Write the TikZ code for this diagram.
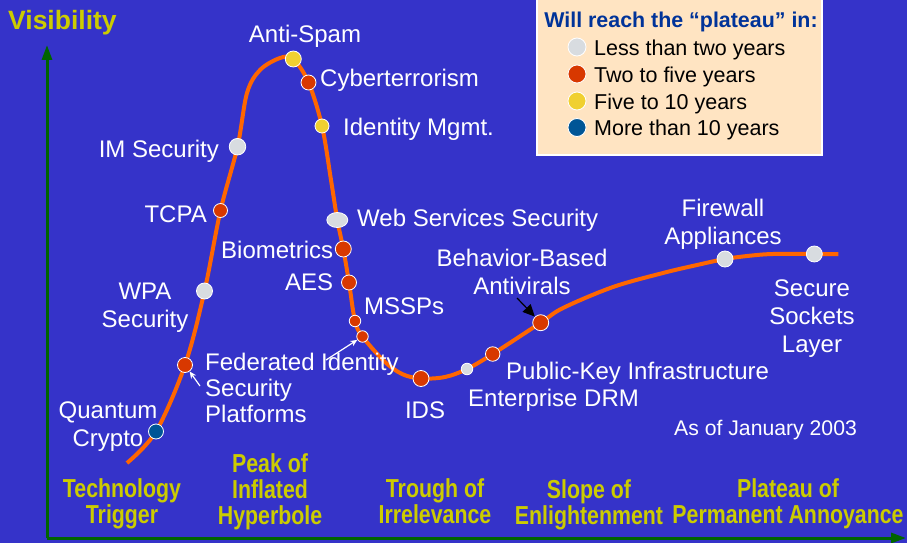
\documentclass[tikz,border=0pt]{standalone}
\usepackage{fontspec}
\setmainfont{Liberation Sans}
\newfontfamily\narrowfont[FakeStretch=0.82]{Liberation Sans}
\usetikzlibrary{arrows.meta,shapes.geometric}
\definecolor{bg}{RGB}{53,51,201}
\definecolor{axisgreen}{RGB}{0,100,0}
\definecolor{curveorange}{RGB}{255,102,0}
\definecolor{dgray}{RGB}{216,220,224}
\definecolor{dred}{RGB}{216,56,0}
\definecolor{dyellow}{RGB}{240,208,48}
\definecolor{dblue}{RGB}{0,85,150}
\definecolor{ylab}{RGB}{204,204,0}
\definecolor{legbg}{RGB}{255,228,194}
\definecolor{legtitle}{RGB}{0,51,153}
\tikzset{
  axis/.style={line width=3pt, draw=axisgreen, -{Triangle[length=15pt,width=10pt]}},
  curve/.style={line width=4pt, draw=curveorange},
  dot/.style={circle, fill=#1, draw=white, line width=0.8pt, minimum size=16pt, inner sep=0pt},
  lbl/.style={text=white, inner sep=0pt, font=\fontsize{24}{28}\selectfont},
  phase/.style={text=ylab, inner sep=0pt, align=center, anchor=north, font=\narrowfont\bfseries\fontsize{26}{26}\selectfont},
  legtext/.style={text=black, inner sep=0pt, anchor=north west, font=\fontsize{21.5}{26}\selectfont},
  whitearrow/.style={draw=white, line width=1.2pt, -{Stealth[length=7pt,width=6pt]}},
  blackarrow/.style={draw=black, line width=1.2pt, -{Triangle[length=12pt,width=11pt]}}
}
\begin{document}
\begin{tikzpicture}[x=1pt,y=-1pt]
\useasboundingbox (0,0) rectangle (907,543);
\fill[bg] (0,0) rectangle (907,543);

% axes
\coordinate (origin) at (47,538);
\coordinate (ytip) at (47,45);
\coordinate (xtip) at (906,538);
\draw[axis] (origin) -- (ytip);
\draw[axis] (origin) -- (xtip);
\node[anchor=north west, inner sep=0pt, text=ylab, font=\bfseries\fontsize{26.5}{30}\selectfont] (vis) at (8,10) {Visibility};

% legend
\fill[legbg, draw=white, line width=1.5pt] (537,-5) rectangle (822,155);
\node[anchor=north, inner sep=0pt, text=legtitle, font=\bfseries\fontsize{21.4}{25}\selectfont] (legt) at (681,11.7) {Will reach the “plateau” in:};
\node[dot=dgray, minimum size=18pt] (lg1) at (577,47) {};
\node[dot=dred, minimum size=18pt] (lg2) at (577,74) {};
\node[dot=dyellow, minimum size=18pt] (lg3) at (577,101) {};
\node[dot=dblue, minimum size=18pt] (lg4) at (577,127.5) {};
\node[legtext] (lt1) at (594,39.3) {Less than two years};
\node[legtext] (lt2) at (594,66.7) {Two to five years};
\node[legtext] (lt3) at (594,94) {Five to 10 years};
\node[legtext] (lt4) at (594,120) {More than 10 years};

% hype curve
\draw[curve] plot[smooth, tension=0.55] coordinates {
 (127,463) (156,431.5) (185,365) (204.5,291) (220.5,210.5) (237.5,146.7)
 (247,93) (260,70) (280,58) (293.3,59) (308.5,82.5) (322,126)
 (331,180) (337.3,220) (343.3,249) (349,282.5) (355,321) (362.5,336.5)
 (384,361) (402,374) (421,378.5) (445,377) (467,369) (492.7,354)
 (540.7,322.7) (563,308) (613,287) (663,273) (697,265) (725,259) (750,255.7)
 (773,254) (814.3,254) (838.3,254)};

% dots
\node[dot=dblue, minimum size=15pt] (quantum) at (156,431.5) {};
\node[dot=dred, minimum size=15pt] (fed) at (185,365) {};
\node[dot=dgray] (wpa) at (204.5,291) {};
\node[dot=dred, minimum size=14pt] (tcpa) at (220.5,210.5) {};
\node[dot=dgray, minimum size=16.5pt] (im) at (237.5,146.7) {};
\node[dot=dyellow] (antispam) at (293.3,59) {};
\node[dot=dred, minimum size=15pt] (cyber) at (308.5,82.5) {};
\node[dot=dyellow, minimum size=14pt] (identity) at (322,126) {};
\node[ellipse, fill=dgray, draw=white, line width=0.8pt, inner sep=0pt, minimum width=21pt, minimum height=15pt] (web) at (337.3,220) {};
\node[dot=dred] (bio) at (343.3,249) {};
\node[dot=dred, minimum size=15pt] (aes) at (349,282.5) {};
\node[dot=dred, minimum size=11.5pt] (mssp) at (355,321) {};
\node[dot=dred, minimum size=11.5pt] (fedid) at (362.5,336.5) {};
\node[dot=dred] (ids) at (421,378.5) {};
\node[dot=dgray, minimum size=11.5pt] (drm) at (467,369) {};
\node[dot=dred, minimum size=14.5pt] (pki) at (492.7,354) {};
\node[dot=dred] (behav) at (540.7,322.7) {};
\node[dot=dgray] (firewall) at (725,259) {};
\node[dot=dgray] (ssl) at (814.3,254) {};

% labels
\node[lbl, anchor=north] (lantispam) at (305,25.4) {Anti-Spam};
\node[lbl, anchor=north west] (lcyber) at (320,69.4) {Cyberterrorism};
\node[lbl, anchor=north west] (lidentity) at (343,118.4) {Identity Mgmt.};
\node[lbl, anchor=north east] (lim) at (219,140.4) {IM Security};
\node[lbl, anchor=north east] (ltcpa) at (207,205.4) {TCPA};
\node[lbl, anchor=north, align=center] (lwpa) at (145,282.4) {WPA\\Security};
\node[lbl, anchor=north west] (lbio) at (221,241.4) {Biometrics};
\node[lbl, anchor=north west] (laes) at (285,273.4) {AES};
\node[lbl, anchor=north west] (lweb) at (357,209.4) {Web Services Security};
\node[lbl, anchor=north west] (lmssp) at (364,297.4) {MSSPs};
\node[lbl, anchor=north west, align=left, font=\fontsize{24}{26}\selectfont] (lfed) at (205,353.4) {Federated Identity\\Security\\Platforms};
\node[lbl, anchor=north, align=center] (lquantum) at (108,401.4) {Quantum\\Crypto};
\node[lbl, anchor=north] (lids) at (425,401.4) {IDS};
\node[lbl, anchor=north west] (ldrm) at (468,389.4) {Enterprise DRM};
\node[lbl, anchor=north west] (lpki) at (506,362.4) {Public-Key Infrastructure};
\node[lbl, anchor=north, align=center] (lbehav) at (522,249.4) {Behavior-Based\\Antivirals};
\node[lbl, anchor=north, align=center] (lfirewall) at (723,199.4) {Firewall\\Appliances};
\node[lbl, anchor=north, align=center] (lssl) at (812,279.4) {Secure\\Sockets\\Layer};
\node[lbl, anchor=north west, font=\fontsize{21.2}{25}\selectfont] (ldate) at (674,420.4) {As of January 2003};

% pointer arrows
\coordinate (fedtail) at (200,386);
\coordinate (fedidtail) at (326,360);
\coordinate (behavtail) at (517,298);
\draw[whitearrow] (fedtail) -- (fed);
\draw[whitearrow] (fedidtail) -- (fedid);
\draw[blackarrow] (behavtail) -- (behav);

% phases
\node[phase] (p1) at (122,478.7) {Technology\\Trigger};
\node[phase] (p2) at (270,453.7) {Peak of\\Inflated\\Hyperbole};
\node[phase] (p3) at (435,478.7) {Trough of\\Irrelevance};
\node[phase] (p4) at (589,479.7) {Slope of\\Enlightenment};
\node[phase] (p5) at (788,478.7) {Plateau of\\Permanent Annoyance};
\end{tikzpicture}
\end{document}
